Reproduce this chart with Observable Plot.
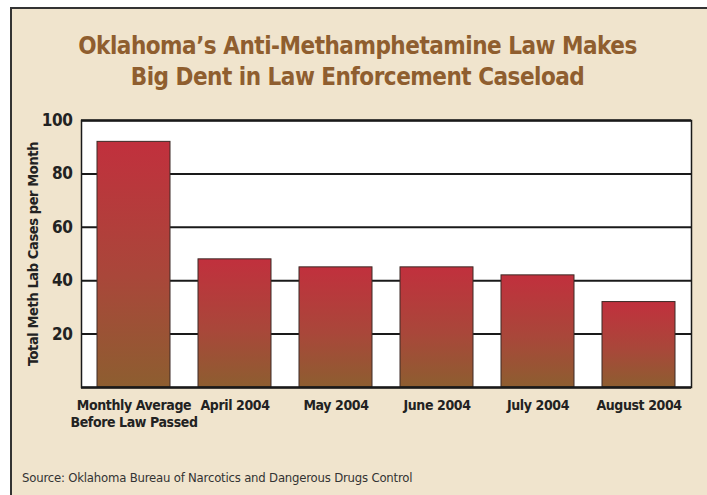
<!DOCTYPE html>
<html>
<head>
<meta charset="utf-8">
<script src="https://cdn.jsdelivr.net/npm/d3@7"></script>
<script src="https://cdn.jsdelivr.net/npm/@observablehq/plot@0.6"></script>
<style>
  html, body { margin: 0; padding: 0; background: #ffffff; }
  #wrap { position: relative; width: 707px; height: 495px; overflow: hidden; background: #ffffff;
          font-family: "DejaVu Sans", sans-serif; font-stretch: condensed; }
  #panel { position: absolute; left: 10px; top: 7px; width: 720px; height: 500px; background: #f0e4cd;
           border-left: 2px solid #333; border-top: 2px solid #333; }
  #title { position: absolute; left: 0; width: 715px; top: 31px; text-align: center; color: #8f5e2f;
           font-weight: bold; font-size: 24px; letter-spacing: -0.5px; line-height: 31px; }
  #chart { position: absolute; left: 0; top: 100px; }
  #source { position: absolute; left: 22px; top: 470px; font-size: 13px; letter-spacing: -0.2px; color: #333; }
</style>
</head>
<body>
<div id="wrap">
  <div id="panel"></div>
  <div id="title">Oklahoma’s Anti-Methamphetamine Law Makes<br>Big Dent in Law Enforcement Caseload</div>
  <div id="chart"></div>
  <div id="source">Source: Oklahoma Bureau of Narcotics and Dangerous Drugs Control</div>
</div>
<script>
const categories = ["Monthly Average\nBefore Law Passed", "April 2004", "May 2004", "June 2004", "July 2004", "August 2004"];
const cases = [92, 48, 45, 45, 42, 32];
const yTicks = [20, 40, 60, 80, 100];
const gridValues = [20, 40, 60, 80];
const yLabel = "Total Meth Lab Cases per Month";

const data = categories.map((c, i) => ({category: c, value: cases[i]}));

const gradient = () => {
  const defs = d3.create("svg:defs");
  const g = defs.append("linearGradient").attr("id", "barGrad")
    .attr("x1", 0).attr("y1", 0).attr("x2", 0).attr("y2", 1);
  g.append("stop").attr("offset", "0%").attr("stop-color", "#c1303d");
  g.append("stop").attr("offset", "55%").attr("stop-color", "#a9473a");
  g.append("stop").attr("offset", "100%").attr("stop-color", "#8d5e30");
  return defs.node();
};

const chart = Plot.plot({
  width: 707,
  height: 340,
  marginTop: 20,
  marginBottom: 53,
  marginLeft: 81,
  marginRight: 16,
  style: {background: "transparent", fontFamily: "'DejaVu Sans', sans-serif", fontStretch: "condensed", fontWeight: "bold", color: "#222", letterSpacing: "-0.4px"},
  x: {domain: categories, paddingInner: 0.28, paddingOuter: 0.14, axis: null},
  y: {domain: [0, 100], axis: null},
  marks: [
    gradient,
    Plot.frame({fill: "#ffffff", stroke: "none"}),
    Plot.ruleY(gridValues, {stroke: "#1a1a1a", strokeWidth: 2}),
    Plot.barY(data, {x: "category", y: "value", fill: "url(#barGrad)", stroke: "#3d2a26", strokeWidth: 1}),
    Plot.ruleY([0, 100], {stroke: "#1a1a1a", strokeWidth: 2.5}),
    Plot.frame({stroke: "#1a1a1a", strokeWidth: 1.5}),
    Plot.text(yTicks, {y: d => d, text: d => String(d), frameAnchor: "left", textAnchor: "end", dx: -9, fontSize: 17, fill: "#222"}),
    Plot.text(categories, {x: d => d, text: d => d, frameAnchor: "bottom", lineAnchor: "top", dy: 10, fontSize: 14, lineHeight: 1.25, fill: "#222"}),
    Plot.text([yLabel], {frameAnchor: "left", textAnchor: "middle", rotate: -90, dx: -48, fontSize: 14.5, fill: "#222"})
  ]
});
document.getElementById("chart").appendChild(chart);
</script>
</body>
</html>
